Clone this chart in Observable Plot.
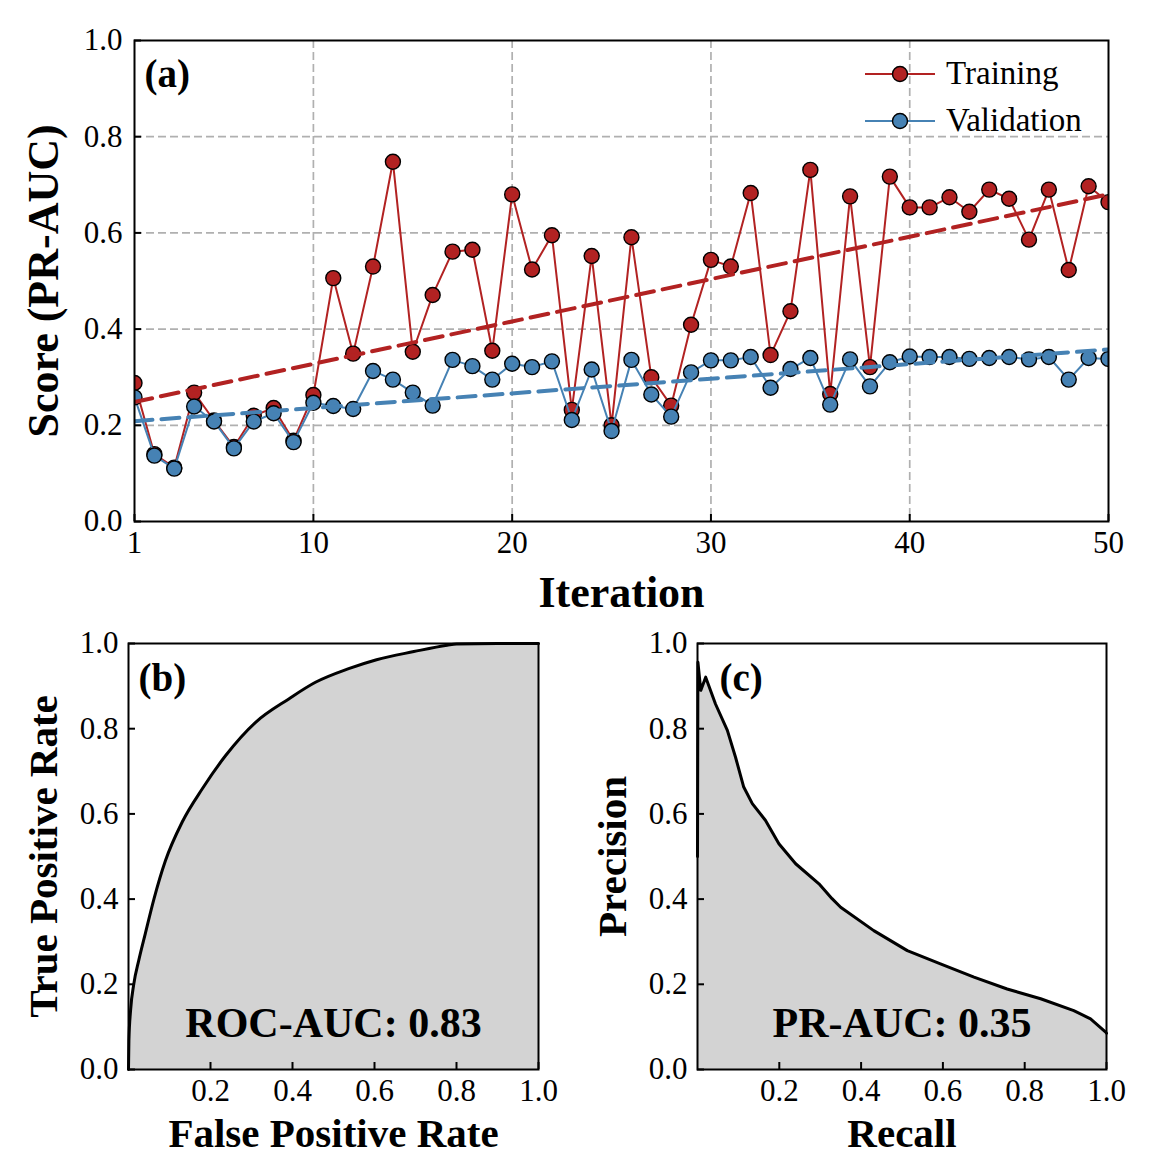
<!DOCTYPE html>
<html><head><meta charset="utf-8">
<script src="https://cdn.jsdelivr.net/npm/d3@7"></script>
<script src="https://cdn.jsdelivr.net/npm/@observablehq/plot@0.6"></script>
<style>
html,body{margin:0;padding:0;background:#fff;overflow:hidden;}
#root{position:relative;width:1151px;height:1173px;font-family:"Liberation Serif","Times New Roman",serif;}
#root > svg, #root > figure{position:absolute;margin:0;}
.legend{position:absolute;left:862px;top:50px;font-size:33px;line-height:47px;color:#000;}
.legend div{display:flex;align-items:center;height:47px;}
.legend svg{margin-right:8px;}
</style></head><body><div id="root"></div>
<script>
// ---------- Panel (a) data ----------
const iteration = [1,2,3,4,5,6,7,8,9,10,11,12,13,14,15,16,17,18,19,20,21,22,23,24,25,26,27,28,29,30,31,32,33,34,35,36,37,38,39,40,41,42,43,44,45,46,47,48,49,50];
const trainScore = [0.288,0.140,0.112,0.268,0.210,0.155,0.220,0.236,0.168,0.263,
  0.506,0.349,0.530,0.748,0.353,0.471,0.561,0.565,0.355,0.680,
  0.524,0.595,0.232,0.552,0.200,0.591,0.300,0.241,0.409,0.544,
  0.530,0.683,0.346,0.437,0.731,0.265,0.676,0.321,0.717,0.653,
  0.653,0.674,0.644,0.690,0.671,0.586,0.690,0.523,0.697,0.664];
const valScore = [0.258,0.137,0.110,0.239,0.208,0.152,0.208,0.225,0.165,0.247,
  0.240,0.234,0.313,0.295,0.268,0.241,0.336,0.323,0.295,0.328,
  0.321,0.333,0.211,0.316,0.188,0.336,0.264,0.218,0.310,0.335,
  0.335,0.342,0.278,0.317,0.340,0.243,0.337,0.281,0.331,0.343,
  0.342,0.342,0.338,0.340,0.342,0.337,0.342,0.295,0.340,0.338];
const xTicksA = [1,10,20,30,40,50];
const xGridA = [10,20,30,40];
const yTicks = [0,0.2,0.4,0.6,0.8,1.0];
const yGrid = [0.2,0.4,0.6,0.8];

// ---------- Panel (b) ROC data ----------
const rocFpr = [0,0.001,0.005,0.013,0.025,0.041,0.062,0.090,0.131,0.180,0.237,0.310,0.391,0.456,0.537,0.605,0.696,0.777,0.800,0.900,1.0];
const rocTpr = [0,0.068,0.138,0.201,0.256,0.319,0.400,0.490,0.581,0.659,0.737,0.815,0.870,0.909,0.941,0.962,0.981,0.996,0.999,1.0,1.0];

// ---------- Panel (c) PR data ----------
const prRecall = [0,0.001,0.008,0.020,0.044,0.073,0.093,0.113,0.134,0.166,0.199,0.240,0.297,0.329,0.350,0.431,0.513,0.594,0.676,0.757,0.839,0.920,0.961,0.998,1.0];
const prPrecision = [0.50,0.956,0.89,0.921,0.858,0.796,0.733,0.663,0.624,0.585,0.530,0.483,0.436,0.401,0.381,0.326,0.279,0.248,0.217,0.189,0.166,0.138,0.119,0.088,0.085];
const xTicksB = [0.2,0.4,0.6,0.8,1.0];

const FONT = '"Liberation Serif","Times New Roman",serif';
const RED = "#b22222", BLUE = "#4682b4";
const GRID = {stroke:"#b0b0b0", strokeOpacity:1, strokeWidth:1.7, strokeDasharray:"8,4"};
const style = {fontFamily: FONT, background: "transparent", maxWidth: "none", overflow: "visible", color:"#000"};
const f1 = d3.format(".1f");
const LBL = {textAnchor:"middle", lineAnchor:"middle", fontWeight:"bold"};

const rowsA = iteration.map((it,i)=>({it, train: trainScore[i], val: valScore[i]}));
const rowsRoc = rocFpr.map((x,i)=>({x, y: rocTpr[i]}));
const rowsPr = prRecall.map((x,i)=>({x, y: prPrecision[i]}));

function inAxes(xt, yt, xfmt, pad=12) {
  return [
    Plot.frame({stroke:"black", strokeWidth:2}),
    Plot.axisX(xt, {tickSize:7, dy:-7, text:null, strokeWidth:2, label:null}),
    Plot.axisX(xt, {tickSize:0, tickPadding:9, fontSize:31, tickFormat:xfmt, label:null}),
    Plot.axisY(yt, {tickSize:7, dx:7, text:null, strokeWidth:2, label:null}),
    Plot.axisY(yt, {tickSize:0, tickPadding:pad, fontSize:31, tickFormat:f1, label:null})
  ];
}

const chartA = Plot.plot({
  width:1151, height:615,
  marginLeft:134, marginRight:43, marginTop:40, marginBottom:94,
  style,
  x:{domain:[1,50], label:null},
  y:{domain:[0,1], label:null},
  marks:[
    Plot.gridX(xGridA, GRID),
    Plot.gridY(yGrid, GRID),
    Plot.line(rowsA, {x:"it", y:"train", stroke:RED, strokeWidth:2, clip:true}),
    Plot.dot(rowsA, {x:"it", y:"train", r:7.5, fill:RED, stroke:"black", strokeWidth:1.4, clip:true}),
    Plot.line(rowsA, {x:"it", y:"val", stroke:BLUE, strokeWidth:2, clip:true}),
    Plot.dot(rowsA, {x:"it", y:"val", r:7.5, fill:BLUE, stroke:"black", strokeWidth:1.4, clip:true}),
    Plot.linearRegressionY(rowsA, {x:"it", y:"train", stroke:RED, strokeWidth:4, strokeDasharray:"18,9", ci:0, clip:true}),
    Plot.linearRegressionY(rowsA, {x:"it", y:"val", stroke:BLUE, strokeWidth:4, strokeDasharray:"18,9", ci:0, clip:true}),
    ...inAxes(xTicksA, yTicks, d=>String(d)),
    Plot.text(["(a)"], {...LBL, text:d=>d, frameAnchor:"top-left", dx:10, dy:34, textAnchor:"start", fontSize:39}),
    Plot.text(["Iteration"], {...LBL, text:d=>d, frameAnchor:"bottom", dy:71, fontSize:44}),
    Plot.text(["Score (PR-AUC)"], {...LBL, text:d=>d, frameAnchor:"left", dx:-91, rotate:-90, fontSize:44})
  ]
});
chartA.style.left = "0px"; chartA.style.top = "0px";

const chartB = Plot.plot({
  width:575, height:558,
  marginLeft:128, marginRight:37, marginTop:28, marginBottom:104,
  style,
  x:{domain:[0,1], label:null},
  y:{domain:[0,1], label:null},
  marks:[
    Plot.areaY(rowsRoc, {x:"x", y:"y", fill:"#d3d3d3", curve:"monotone-x"}),
    Plot.line(rowsRoc, {x:"x", y:"y", stroke:"black", strokeWidth:3, curve:"monotone-x"}),
    ...inAxes(xTicksB, yTicks, f1, 10),
    Plot.text(["(b)"], {...LBL, text:d=>d, frameAnchor:"top-left", dx:10, dy:35, textAnchor:"start", fontSize:39}),
    Plot.text(["ROC-AUC: 0.83"], {...LBL, text:d=>d, frameAnchor:"bottom", dy:-46, fontSize:42}),
    Plot.text(["False Positive Rate"], {...LBL, text:d=>d, frameAnchor:"bottom", dy:64, fontSize:41}),
    Plot.text(["True Positive Rate"], {...LBL, text:d=>d, frameAnchor:"left", dx:-85, rotate:-90, fontSize:41})
  ]
});
chartB.style.left = "0px"; chartB.style.top = "615px";

const chartC = Plot.plot({
  width:576, height:558,
  marginLeft:122, marginRight:45, marginTop:28, marginBottom:104,
  style,
  x:{domain:[0,1], label:null},
  y:{domain:[0,1], label:null},
  marks:[
    Plot.areaY(rowsPr, {x:"x", y:"y", fill:"#d3d3d3"}),
    Plot.line(rowsPr, {x:"x", y:"y", stroke:"black", strokeWidth:3}),
    ...inAxes(xTicksB, yTicks, f1, 10),
    Plot.text(["(c)"], {...LBL, text:d=>d, frameAnchor:"top-left", dx:22, dy:35, textAnchor:"start", fontSize:39}),
    Plot.text(["PR-AUC: 0.35"], {...LBL, text:d=>d, frameAnchor:"bottom", dy:-46, fontSize:42}),
    Plot.text(["Recall"], {...LBL, text:d=>d, frameAnchor:"bottom", dy:64, fontSize:41}),
    Plot.text(["Precision"], {...LBL, text:d=>d, frameAnchor:"left", dx:-85, rotate:-90, fontSize:41})
  ]
});
chartC.style.left = "575px"; chartC.style.top = "615px";

const root = document.getElementById("root");
root.append(chartA, chartB, chartC);

// legend for panel (a)
const seriesNames = ["Training","Validation"];
const seriesColors = [RED, BLUE];
const leg = document.createElement("div");
leg.className = "legend";
seriesNames.forEach((name,i)=>{
  const row = document.createElement("div");
  row.innerHTML = `<svg width="76" height="20" viewBox="0 0 76 20"><line x1="3" y1="10" x2="73" y2="10" stroke="${seriesColors[i]}" stroke-width="2"/><circle cx="38" cy="10" r="7.5" fill="${seriesColors[i]}" stroke="black" stroke-width="1.4"/></svg><span>${name}</span>`;
  leg.append(row);
});
root.append(leg);
</script>
</body></html>
